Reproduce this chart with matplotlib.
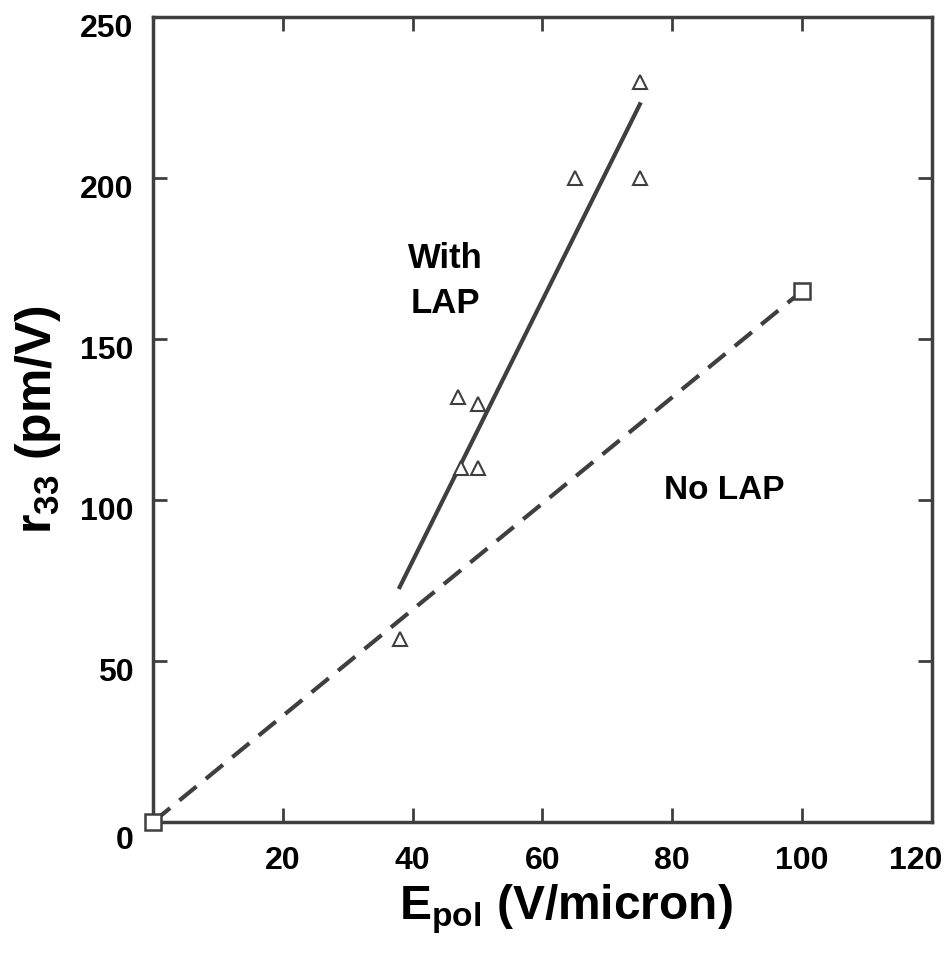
import matplotlib
matplotlib.use("Agg")
import matplotlib.pyplot as plt
from matplotlib.transforms import ScaledTranslation

plt.rcParams["font.family"] = ["Liberation Sans", "DejaVu Sans"]
plt.rcParams["mathtext.fontset"] = "custom"
plt.rcParams["mathtext.rm"] = "Liberation Sans"
plt.rcParams["mathtext.bf"] = "Liberation Sans:bold"

# data
lap_x = [38, 47, 47.5, 50, 50, 65, 75, 75]
lap_y = [57, 132, 110, 130, 110, 200, 230, 200]
nolap_x = [0, 100]
nolap_y = [0, 165]
lap_fit_x = [38, 75]
lap_fit_y = [73, 223]

xticks = [20, 40, 60, 80, 100, 120]
yticks = [0, 50, 100, 150, 200, 250]

grey = "#3f3f3f"

fig = plt.figure(figsize=(9.53, 9.66), dpi=100)
ax = fig.add_axes([0.1605, 0.149, 0.8175, 0.833])

# fitted lines
ax.plot(lap_fit_x, lap_fit_y, color=grey, lw=3)
ax.plot(nolap_x, nolap_y, color=grey, lw=3, dashes=(5.3, 2.9))

# measured points
ax.plot(lap_x, lap_y, linestyle="none", marker="^", markersize=10,
        markerfacecolor="white", markeredgecolor=grey, markeredgewidth=1.5,
        clip_on=False)
ax.plot(nolap_x, nolap_y, linestyle="none", marker="s", markersize=11,
        markerfacecolor="white", markeredgecolor=grey, markeredgewidth=1.8,
        clip_on=False, zorder=5)

ax.text(45, 168, "With\nLAP", fontsize=25, fontweight="bold",
        ha="center", va="center", linespacing=1.45)
ax.text(88, 103, "No LAP", fontsize=24, fontweight="bold",
        ha="center", va="center")

ax.set_xlim(0, 120)
ax.set_ylim(0, 250)
ax.set_xticks(xticks)
ax.set_yticks(yticks)
ax.tick_params(direction="in", length=10, width=2, top=True, right=True,
               labelsize=23, color=grey)
ax.tick_params(axis="x", pad=17)
ax.tick_params(axis="y", pad=14)
for lab in ax.get_xticklabels() + ax.get_yticklabels():
    lab.set_fontweight("bold")

# nudge labels like the original
ylabs = ax.get_yticklabels()
for lab in ylabs:
    lab.set_transform(lab.get_transform() + ScaledTranslation(0, -0.08, fig.dpi_scale_trans))
ylabs[0].set_transform(ylabs[0].get_transform() + ScaledTranslation(0, -0.07, fig.dpi_scale_trans))
xlabs = ax.get_xticklabels()
xlabs[-1].set_transform(xlabs[-1].get_transform() + ScaledTranslation(-0.16, 0, fig.dpi_scale_trans))

for sp in ax.spines.values():
    sp.set_linewidth(2.5)
    sp.set_color(grey)

ax.set_xlabel(r"E$_{\mathregular{pol}}$ (V/micron)", fontsize=34.5,
              fontweight="bold", labelpad=8)
ax.xaxis.set_label_coords(0.53, -0.075)
ax.set_ylabel(r"r$_{\mathregular{33}}$ (pm/V)", fontsize=36,
              fontweight="bold", labelpad=12)

fig.savefig("out.png", dpi=100)
